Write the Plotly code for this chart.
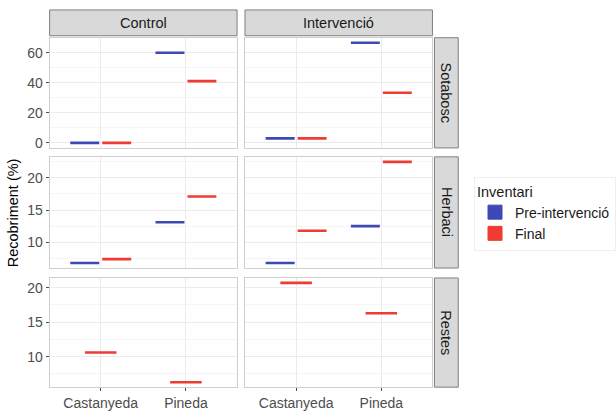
import plotly.graph_objects as go

# ---------------- data ----------------
categories = ["Castanyeda", "Pineda"]
treatments = ["Control", "Intervenció"]
strata = ["Sotabosc", "Herbaci", "Restes"]
groups = ["Pre-intervenció", "Final"]
group_colors = ["#3F48B5", "#EE3B33"]

# values per treatment: [Castanyeda, Pineda]
sotabosc_pre = [[0.0, 60.1], [3.0, 66.8]]
sotabosc_final = [[0.0, 41.2], [3.0, 33.4]]
herbaci_pre = [[6.8, 13.1], [6.8, 12.5]]
herbaci_final = [[7.4, 17.1], [11.8, 22.45]]
restes_pre = None
restes_final = [[10.6, 6.3], [20.7, 16.3]]

stratum_values = [
    [sotabosc_pre, sotabosc_final],
    [herbaci_pre, herbaci_final],
    [restes_pre, restes_final],
]
y_dticks = [20, 5, 5]

# ---------------- layout geometry (px) ----------------
W, H = 616, 412
col_px = [(50, 239), (247, 436)]
row_px = [(38, 149), (158, 270), (280, 390)]
top_strip = (10, 36)
right_strip = (438, 462)

def px_x(v):
    return v / W

def px_y(v):
    return 1 - v / H

FONT = "Liberation Sans, Arial, Helvetica, sans-serif"
fig = go.Figure()

layout = dict(
    width=W, height=H, autosize=False,
    margin=dict(l=0, r=0, t=0, b=0),
    paper_bgcolor="white", plot_bgcolor="white",
    font=dict(family=FONT, size=14, color="#1A1A1A"),
    showlegend=True,
)

shapes = []
annotations = []

for r, stratum in enumerate(strata):
    series = stratum_values[r]
    present = [g for g in range(len(groups)) if series[g] is not None]
    allv = [v for g in present for t in series[g] for v in t]
    lo, hi = min(allv), max(allv)
    pad = 0.05 * (hi - lo)
    yrange = [lo - pad, hi + pad]
    if len(present) == 2:
        offsets = {present[0]: -0.1875, present[1]: 0.1875}
        bw = 0.34
    else:
        offsets = {present[0]: 0.0}
        bw = 0.37
    for c, treat in enumerate(treatments):
        k = r * 2 + c + 1
        xname = "x" if k == 1 else f"x{k}"
        yname = "y" if k == 1 else f"y{k}"
        for g in present:
            xs, ys = [], []
            for i, v in enumerate(series[g][c]):
                center = (i + 1) + offsets[g]
                xs += [center - bw / 2, center + bw / 2, None]
                ys += [v, v, None]
            fig.add_trace(go.Scatter(
                x=xs, y=ys, mode="lines", xaxis=xname, yaxis=yname,
                line=dict(color=group_colors[g], width=2.6),
                showlegend=False, name=groups[g],
            ))
        x0, x1 = col_px[c]
        y0, y1 = row_px[r]
        layout[f"xaxis{'' if k == 1 else k}"] = dict(
            domain=[px_x(x0), px_x(x1)], anchor=yname,
            range=[0.4, 2.6], tickmode="array", tickvals=[1, 2],
            ticktext=categories, showticklabels=(r == 2),
            ticks="outside" if r == 2 else "", ticklen=3, tickcolor="#4D4D4D",
            tickfont=dict(size=14, color="#4D4D4D"),
            showgrid=True, gridcolor="#EBEBEB", gridwidth=1,
            zeroline=False, showline=True, mirror=True,
            linecolor="#CFCFCF", linewidth=1,
        )
        layout[f"yaxis{'' if k == 1 else k}"] = dict(
            domain=[px_y(y1), px_y(y0)], anchor=xname,
            range=yrange, tick0=0, dtick=y_dticks[r],
            showticklabels=(c == 0),
            ticks="outside" if c == 0 else "", ticklen=3, tickcolor="#4D4D4D",
            tickfont=dict(size=14, color="#4D4D4D"),
            showgrid=True, gridcolor="#EBEBEB", gridwidth=1,
            minor=dict(dtick=y_dticks[r] / 2, tick0=0, showgrid=True,
                       gridcolor="#F5F5F5", gridwidth=0.5, ticks=""),
            zeroline=False, showline=True, mirror=True,
            linecolor="#CFCFCF", linewidth=1,
        )

# top strips
for c, treat in enumerate(treatments):
    x0, x1 = col_px[c]
    shapes.append(dict(type="rect", xref="paper", yref="paper",
                       x0=px_x(x0), x1=px_x(x1),
                       y0=px_y(top_strip[1]), y1=px_y(top_strip[0]),
                       fillcolor="#D9D9D9", line=dict(color="#7F7F7F", width=1),
                       layer="below"))
    annotations.append(dict(text=treat, xref="paper", yref="paper",
                            x=px_x((x0 + x1) / 2), y=px_y((top_strip[0] + top_strip[1]) / 2),
                            showarrow=False, xanchor="center", yanchor="middle",
                            font=dict(size=14.5, color="#1A1A1A", family=FONT)))
# right strips
for r, stratum in enumerate(strata):
    y0, y1 = row_px[r]
    shapes.append(dict(type="rect", xref="paper", yref="paper",
                       x0=px_x(right_strip[0]), x1=px_x(right_strip[1]),
                       y0=px_y(y1), y1=px_y(y0),
                       fillcolor="#D9D9D9", line=dict(color="#7F7F7F", width=1),
                       layer="below"))
    annotations.append(dict(text=stratum, xref="paper", yref="paper",
                            x=px_x((right_strip[0] + right_strip[1]) / 2),
                            y=px_y((y0 + y1) / 2), textangle=90,
                            showarrow=False, xanchor="center", yanchor="middle",
                            font=dict(size=14.5, color="#1A1A1A", family=FONT)))

# y axis title
annotations.append(dict(text="Recobriment (%)", xref="paper", yref="paper",
                        x=px_x(14), y=px_y((row_px[0][0] + row_px[2][1]) / 2),
                        textangle=-90, showarrow=False,
                        xanchor="center", yanchor="middle",
                        font=dict(size=14.5, color="#000000", family=FONT)))

# legend entries
for g, name in enumerate(groups):
    fig.add_trace(go.Scatter(
        x=[None], y=[None], mode="markers", name=name,
        marker=dict(symbol="square", size=14, color=group_colors[g],
                    line=dict(color=group_colors[g], width=1)),
        showlegend=True,
    ))

layout["legend"] = dict(
    x=px_x(478), y=px_y(178), xanchor="left", yanchor="top",
    title=dict(text="Inventari", font=dict(size=14.5, color="#1A1A1A")),
    font=dict(size=14, color="#1A1A1A"),
    bgcolor="white", bordercolor="#EEEEEE", borderwidth=1,
    tracegroupgap=0,
)
layout["shapes"] = shapes
layout["annotations"] = annotations
fig.update_layout(**layout)

fig.write_html("out.html")
